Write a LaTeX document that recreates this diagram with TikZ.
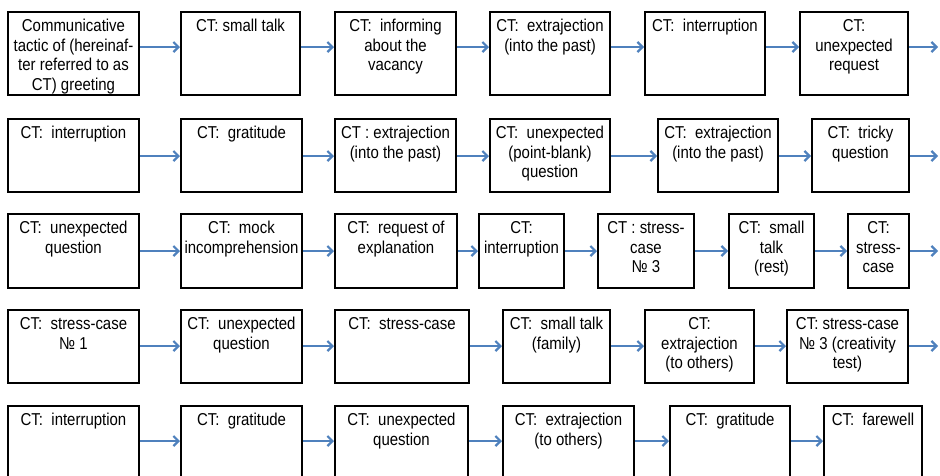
\documentclass[tikz,border=0pt]{standalone}
\usepackage{fontspec}
\setmainfont{Liberation Sans}[FakeStretch=0.87]
\usetikzlibrary{arrows.meta}
\definecolor{arrblue}{HTML}{4F81BD}
\newcommand\ctbox[6]{%
  \pgfmathsetmacro\bw{#4-#2}\pgfmathsetmacro\bh{#5-#3}%
  \node[ctboxstyle, anchor=north west] (#1) at (#2,#3)
    {\parbox[t][\bh pt][t]{\bw pt}{\centering\fontsize{17.2}{19.6}\selectfont\rule{0pt}{19.5pt}#6}};}
\tikzset{
  ctboxstyle/.style={draw=black, line width=2pt, inner sep=0pt, fill=white},
  arr/.style={draw=arrblue, line width=2.2pt, -{Straight Barb[length=5pt,width=10pt]}}
}
\begin{document}
\begin{tikzpicture}[x=1pt,y=-1pt]
\useasboundingbox (0,0) rectangle (940,475);
\clip (0,0) rectangle (940,475);
% Row 1
\ctbox{a1}{7}{11}{138}{94}{Communicative\\ tactic of (hereinaf-\\ ter referred to as\\ CT) greeting}
\ctbox{a2}{180}{11}{299}{94}{CT: small talk}
\ctbox{a3}{334}{11}{455}{94}{CT:\ \ informing\\ about the\\ vacancy}
\ctbox{a4}{489}{11}{609}{94}{CT:\ \ extrajection\\ (into the past)}
\ctbox{a5}{644}{11}{764}{94}{CT:\ \ interruption}
\ctbox{a6}{799}{11}{907}{94}{CT:\\ unexpected\\ request}
\coordinate (ea) at (938,47);
% Row 2
\ctbox{b1}{7}{118}{138}{191}{CT:\ \ interruption}
\ctbox{b2}{180}{118}{301}{191}{CT:\ \ gratitude}
\ctbox{b3}{334}{118}{455}{191}{CT : extrajection\\ (into the past)}
\ctbox{b4}{489}{118}{609}{191}{CT:\ \ unexpected\\ (point-blank)\\ question}
\ctbox{b5}{657}{118}{777}{191}{CT:\ \ extrajection\\ (into the past)}
\ctbox{b6}{811}{118}{908}{191}{CT:\ \ tricky\\ question}
\coordinate (eb) at (938,156);
% Row 3
\ctbox{c1}{7}{213}{138}{287}{CT:\ \ unexpected\\ question}
\ctbox{c2}{180}{213}{301}{287}{CT:\ \ mock\\ incomprehension}
\ctbox{c3}{334}{213}{456}{287}{CT:\ \ request of\\ explanation}
\ctbox{c4}{478}{213}{563}{287}{CT:\\ interruption}
\ctbox{c5}{597}{213}{693}{287}{CT : stress-\\ case\\ № 3}
\ctbox{c6}{728}{213}{813}{287}{CT:\ \ small\\ talk\\ (rest)}
\ctbox{c7}{847}{213}{908}{287}{CT:\\ stress-\\ case}
\coordinate (ec) at (938,251);
% Row 4
\ctbox{d1}{7}{309}{138}{382}{CT:\ \ stress-case\\ № 1}
\ctbox{d2}{180}{309}{301}{382}{CT:\ \ unexpected\\ question}
\ctbox{d3}{334}{309}{468}{382}{CT:\ \ stress-case}
\ctbox{d4}{502}{309}{609}{382}{CT:\ \ small talk\\ (family)}
\ctbox{d5}{644}{309}{753}{382}{CT:\\ extrajection\\ (to others)}
\ctbox{d6}{786}{309}{907}{382}{CT: stress-case\\ № 3 (creativity\\ test)}
\coordinate (ed) at (938,346);
% Row 5
\ctbox{e1}{7}{405}{138}{480}{CT:\ \ interruption}
\ctbox{e2}{180}{405}{301}{480}{CT:\ \ gratitude}
\ctbox{e3}{334}{405}{467}{480}{CT:\ \ unexpected\\ question}
\ctbox{e4}{502}{405}{633}{480}{CT:\ \ extrajection\\ (to others)}
\ctbox{e5}{669}{405}{789}{480}{CT:\ \ gratitude}
\ctbox{e6}{823}{405}{921}{480}{CT:\ \ farewell}
% Arrows
\foreach \r/\y in {a/47, b/156, c/251, d/346, e/441}{
  \foreach \i [count=\j from 2] in {1,...,5}{
    \draw[arr] (\r\i.east |- 0,\y) -- (\r\j.west |- 0,\y);
  }
}
\draw[arr] (c6.east |- 0,251) -- (c7.west |- 0,251);
\draw[arr] (a6.east |- ea) -- (ea);
\draw[arr] (b6.east |- eb) -- (eb);
\draw[arr] (c7.east |- ec) -- (ec);
\draw[arr] (d6.east |- ed) -- (ed);
\end{tikzpicture}
\end{document}
